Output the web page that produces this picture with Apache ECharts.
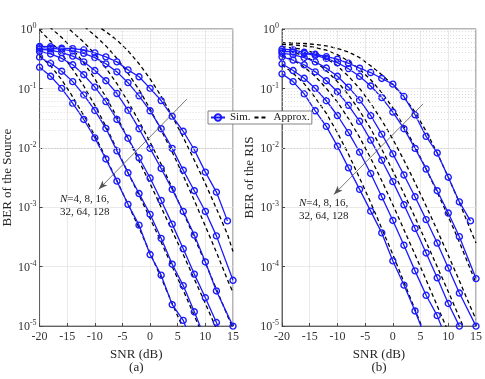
<!DOCTYPE html>
<html>
<head>
<meta charset="utf-8">
<script src="https://cdn.jsdelivr.net/npm/echarts@6/dist/echarts.min.js"></script>
<style>
  html, body { margin: 0; padding: 0; background: #fff; }
  #chart { width: 485px; height: 379px; }
</style>
</head>
<body>
<div id="chart"></div>
<script>
// SNR grid (dB)
const snr = [-20, -18, -16, -14, -12, -10, -8, -6, -4, -2, 0, 2, 4, 6, 8, 10, 12, 14];
const snrEnd15 = [-20, -18, -16, -14, -12, -10, -8, -6, -4, -2, 0, 2, 4, 6, 8, 10, 12, 15];
const snrApprox = [-20, -18, -16, -14, -12, -10, -8, -6, -4, -2, 0, 2, 4, 6, 8, 10, 12, 14, 15];

const xTicks = [-20, -15, -10, -5, 0, 5, 10, 15];
const yDecades = [1e-5, 1e-4, 1e-3, 1e-2, 1e-1, 1];

// (a) BER of the Source, simulation, N = 128, 64, 32, 16, 8, 4
const simA128 = [0.227, 0.16, 0.10, 0.056, 0.030, 0.0147, 0.0065, 0.00275, 0.00112, 5.0e-4, 1.6e-4, 7.2e-5, 2.3e-5, 1.25e-5, 4e-6];
const simA64  = [0.335, 0.265, 0.195, 0.13, 0.078, 0.0426, 0.0213, 0.0089, 0.0038, 0.0017, 7.6e-4, 3.0e-4, 1.1e-4, 4.8e-5, 1.74e-5, 6e-6];
const simA32  = [0.42, 0.38, 0.32, 0.25, 0.17, 0.105, 0.06, 0.03, 0.0145, 0.0068, 0.0031, 0.0013, 5.2e-4, 2.0e-4, 7.5e-5, 3.0e-5, 1.15e-5, 4e-6];
const simA16  = [0.456, 0.44, 0.40, 0.35, 0.28, 0.2, 0.135, 0.082, 0.043, 0.021, 0.0098, 0.0045, 0.002, 8.5e-4, 3.4e-4, 1.2e-4, 3.9e-5, 1.0e-5];
const simA8   = [0.486, 0.475, 0.455, 0.43, 0.39, 0.33, 0.26, 0.19, 0.125, 0.075, 0.042, 0.021, 0.0098, 0.0042, 0.0019, 8.5e-4, 3.3e-4, 5.9e-5];
const simA4   = [0.51, 0.505, 0.475, 0.468, 0.445, 0.396, 0.34, 0.28, 0.205, 0.157, 0.1, 0.0625, 0.034, 0.019, 0.0093, 0.0039, 0.0018, 5.9e-4];

// (a) approximation
const apxA128 = [0.36, 0.24, 0.14, 0.072, 0.035, 0.016, 0.0068, 0.0028, 0.00112, 4.5e-4, 1.7e-4, 6.5e-5, 2.4e-5, 9e-6, 3e-6];
const apxA64  = [0.96, 0.62, 0.38, 0.21, 0.11, 0.052, 0.023, 0.0094, 0.0038, 0.0016, 6.5e-4, 2.6e-4, 1.0e-4, 4e-5, 1.5e-5, 5.5e-6];
const apxA32  = [1.6, 1.05, 0.72, 0.46, 0.27, 0.145, 0.072, 0.033, 0.0145, 0.006, 0.0025, 0.001, 4e-4, 1.6e-4, 6.2e-5, 2.4e-5, 9e-6, 3e-6];
const apxA16  = [3.0, 2.0, 1.3, 0.88, 0.6, 0.38, 0.22, 0.12, 0.06, 0.028, 0.0125, 0.0053, 0.0021, 8.2e-4, 3.1e-4, 1.15e-4, 4.2e-5, 1.5e-5, 9e-6];
const apxA8   = [4, 3, 2.2, 1.55, 1.12, 0.78, 0.52, 0.32, 0.18, 0.095, 0.045, 0.02, 0.0085, 0.0034, 0.0013, 4.8e-4, 1.75e-4, 6e-5, 3.7e-5];
const apxA4   = [6, 4.5, 3.3, 2.4, 1.7, 1.2, 0.9, 0.65, 0.43, 0.26, 0.145, 0.074, 0.034, 0.015, 0.0062, 0.0025, 9.5e-4, 3.5e-4, 1.8e-4];

// (b) BER of the RIS, simulation
const simB128 = [0.176, 0.13, 0.081, 0.042, 0.023, 0.0107, 0.0046, 0.002, 8.6e-4, 3.7e-4, 1.25e-4, 4.9e-5, 1.8e-5, 6e-6];
const simB64  = [0.26, 0.2, 0.148, 0.1, 0.062, 0.035, 0.018, 0.0085, 0.0037, 0.0015, 6e-4, 2.3e-4, 8.5e-5, 3.3e-5, 1.5e-5, 5e-6];
const simB32  = [0.34, 0.30, 0.25, 0.19, 0.135, 0.088, 0.052, 0.028, 0.0135, 0.0062, 0.0027, 0.0011, 4.4e-4, 1.7e-4, 6.5e-5, 2.4e-5, 1.0e-5];
const simB16  = [0.39, 0.37, 0.33, 0.28, 0.22, 0.16, 0.105, 0.064, 0.035, 0.017, 0.0079, 0.0035, 0.0015, 6.2e-4, 2.5e-4, 9.5e-5, 3.6e-5, 1.0e-5];
const simB8   = [0.42, 0.41, 0.39, 0.36, 0.32, 0.27, 0.215, 0.16, 0.11, 0.07, 0.04, 0.021, 0.0098, 0.0044, 0.0019, 8e-4, 3.2e-4, 6.3e-5];
const simB4   = [0.456, 0.445, 0.406, 0.376, 0.343, 0.31, 0.265, 0.219, 0.185, 0.147, 0.118, 0.073, 0.036, 0.0156, 0.0082, 0.0032, 0.00123, 5.9e-4];

// (b) approximation
const apxB128 = [0.25, 0.18, 0.12, 0.07, 0.038, 0.018, 0.0078, 0.0031, 0.0012, 4.4e-4, 1.6e-4, 5.5e-5, 1.9e-5, 6.5e-6];
const apxB64  = [0.36, 0.3, 0.23, 0.16, 0.1, 0.059, 0.031, 0.015, 0.0067, 0.0028, 0.0011, 4.2e-4, 1.6e-4, 6e-5, 2.2e-5, 8e-6];
const apxB32  = [0.45, 0.41, 0.35, 0.28, 0.2, 0.13, 0.078, 0.042, 0.021, 0.0095, 0.0041, 0.0017, 6.8e-4, 2.6e-4, 1e-4, 3.8e-5, 1.4e-5, 5e-6];
const apxB16  = [0.5, 0.48, 0.45, 0.39, 0.32, 0.24, 0.16, 0.1, 0.056, 0.029, 0.014, 0.0062, 0.0026, 0.00105, 4.1e-4, 1.55e-4, 5.8e-5, 2.1e-5, 1.3e-5];
const apxB8   = [0.55, 0.54, 0.52, 0.49, 0.44, 0.37, 0.29, 0.21, 0.14, 0.085, 0.047, 0.023, 0.0105, 0.0044, 0.0018, 7e-4, 2.6e-4, 9e-5, 5.3e-5];
const apxB4   = [0.59, 0.58, 0.57, 0.55, 0.52, 0.47, 0.41, 0.33, 0.24, 0.17, 0.115, 0.072, 0.04, 0.019, 0.0082, 0.0032, 0.0012, 4.2e-4, 2.5e-4];

// arrows (data coords): [from, to]
const arrowA = [[6.65, 0.066], [-9.3, 0.002]];
const arrowB = [[5.46, 0.055], [-10.64, 0.00164]];

const FONT = 'Liberation Serif';
const BLUE = '#1a1aff';

const minorVals = [];
for (let e = -5; e < 0; e++) for (let m = 2; m <= 9; m++) minorVals.push(m * Math.pow(10, e));

function zip(xs, ys) { return ys.map((y, i) => [xs[i], y]); }

function simSeries(xs, ys, idx) {
  return {
    name: 'Sim.', type: 'line', xAxisIndex: idx, yAxisIndex: idx,
    data: zip(xs, ys), symbol: 'circle', symbolSize: 6, z: 4,
    lineStyle: { color: BLUE, width: 1.3 },
    itemStyle: { color: 'rgba(255,255,255,0)', borderColor: BLUE, borderWidth: 1.4 },
    emphasis: { disabled: true }, animation: false
  };
}
function apxSeries(xs, ys, idx) {
  return {
    name: 'Approx.', type: 'line', xAxisIndex: idx, yAxisIndex: idx,
    data: zip(xs, ys), symbol: 'none', z: 3,
    lineStyle: { color: '#000', width: 1.3, type: [4, 3] },
    itemStyle: { color: '#000' },
    emphasis: { disabled: true }, animation: false
  };
}
function decorSeries(idx) {
  return {
    name: 'decor', type: 'line', xAxisIndex: idx, yAxisIndex: idx, data: [], z: 1,
    silent: true, animation: false,
    markLine: {
      silent: true, symbol: ['none', 'none'], animation: false,
      label: { show: false },
      lineStyle: { color: '#d0d0d0', width: 0.7, type: [1, 2] },
      data: minorVals.map(v => ({ yAxis: v }))
    }
  };
}
function arrowSeries(idx, arrow) {
  return {
    name: 'arrow', type: 'line', xAxisIndex: idx, yAxisIndex: idx, data: [], z: 6,
    silent: true, animation: false,
    markLine: {
      silent: true, animation: false, symbol: ['none', 'arrow'], symbolSize: [5, 9],
      label: { show: false },
      lineStyle: { color: '#555', width: 0.8, type: 'solid' },
      data: [[{ coord: arrow[0] }, { coord: arrow[1] }]]
    }
  };
}

function supLabel(v) {
  const e = Math.round(Math.log10(v));
  return '{b|10}{s|' + e + '}';
}

function xAxisCfg(idx, name) {
  return {
    type: 'value', gridIndex: idx, min: -20, max: 15, interval: 5,
    name: name, nameLocation: 'middle', nameGap: 17,
    nameTextStyle: { fontFamily: FONT, fontSize: 13, color: '#262626', lineHeight: 13 },
    axisLine: { onZero: false, lineStyle: { color: '#444', width: 0.8 } },
    axisTick: { inside: true, length: 3, lineStyle: { color: '#444' } },
    axisLabel: { fontFamily: FONT, fontSize: 12, color: '#333', margin: 5 },
    splitLine: { show: true, lineStyle: { color: '#e3e3e3', width: 0.8 } }
  };
}
function yAxisCfg(idx, name) {
  return {
    type: 'log', logBase: 10, gridIndex: idx, min: 1e-5, max: 1, interval: 1,
    name: name, nameLocation: 'middle', nameGap: 24,
    nameTextStyle: { fontFamily: FONT, fontSize: 13, color: '#262626' },
    axisLine: { onZero: false, lineStyle: { color: '#444', width: 0.8 } },
    axisTick: { inside: true, length: 3, lineStyle: { color: '#444' } },
    axisLabel: {
      margin: 3, formatter: supLabel, color: '#333',
      rich: {
        b: { fontFamily: FONT, fontSize: 12, color: '#333', lineHeight: 14, verticalAlign: 'bottom' },
        s: { fontFamily: FONT, fontSize: 8, color: '#333', lineHeight: 14, verticalAlign: 'top' }
      }
    },
    splitLine: { show: true, lineStyle: { color: '#e3e3e3', width: 0.8 } }
  };
}

const chart = echarts.init(document.getElementById('chart'), null, { renderer: 'canvas' });
chart.setOption({
  backgroundColor: '#fff',
  animation: false,
  grid: [
    { left: 39, top: 29, width: 194, height: 298, show: true, borderColor: '#444', borderWidth: 0.8, backgroundColor: '#fff' },
    { left: 282, top: 29, width: 194, height: 298, show: true, borderColor: '#444', borderWidth: 0.8, backgroundColor: '#fff' }
  ],
  xAxis: [xAxisCfg(0, 'SNR (dB)\n(a)'), xAxisCfg(1, 'SNR (dB)\n(b)')],
  yAxis: [yAxisCfg(0, 'BER of the Source'), yAxisCfg(1, 'BER of the RIS')],
  legend: {
    data: [
      { name: 'Sim.' },
      { name: 'Approx.', itemStyle: { color: 'rgba(0,0,0,0)', borderWidth: 0 } }
    ],
    left: 208, top: 111, orient: 'horizontal',
    backgroundColor: '#fff', borderColor: '#666', borderWidth: 0.8,
    padding: [1, 2, 1, 2], itemGap: 3, itemWidth: 14, itemHeight: 8, z: 20,
    textStyle: { fontFamily: FONT, fontSize: 11, color: '#222' }
  },
  graphic: [
    { type: 'text', left: 60, top: 193, z: 10,
      style: { text: '{i|N}=4, 8, 16,\n32, 64, 128', fontFamily: FONT, fontSize: 11, fill: '#222', lineHeight: 13,
        rich: { i: { fontStyle: 'italic', fontFamily: FONT, fontSize: 11, fill: '#222' } } } },
    { type: 'text', left: 299, top: 197, z: 10,
      style: { text: '{i|N}=4, 8, 16,\n32, 64, 128', fontFamily: FONT, fontSize: 11, fill: '#222', lineHeight: 13,
        rich: { i: { fontStyle: 'italic', fontFamily: FONT, fontSize: 11, fill: '#222' } } } }
  ],
  series: [
    decorSeries(0), decorSeries(1),
    apxSeries(snrApprox, apxA128, 0), apxSeries(snrApprox, apxA64, 0), apxSeries(snrApprox, apxA32, 0),
    apxSeries(snrApprox, apxA16, 0), apxSeries(snrApprox, apxA8, 0), apxSeries(snrApprox, apxA4, 0),
    simSeries(snr, simA128, 0), simSeries(snr, simA64, 0), simSeries(snr, simA32, 0),
    simSeries(snrEnd15, simA16, 0), simSeries(snrEnd15, simA8, 0), simSeries(snr, simA4, 0),
    apxSeries(snrApprox, apxB128, 1), apxSeries(snrApprox, apxB64, 1), apxSeries(snrApprox, apxB32, 1),
    apxSeries(snrApprox, apxB16, 1), apxSeries(snrApprox, apxB8, 1), apxSeries(snrApprox, apxB4, 1),
    simSeries(snr, simB128, 1), simSeries(snr, simB64, 1), simSeries(snr, simB32, 1),
    simSeries(snrEnd15, simB16, 1), simSeries(snrEnd15, simB8, 1), simSeries(snr, simB4, 1),
    arrowSeries(0, arrowA), arrowSeries(1, arrowB)
  ]
});
</script>
</body>
</html>
